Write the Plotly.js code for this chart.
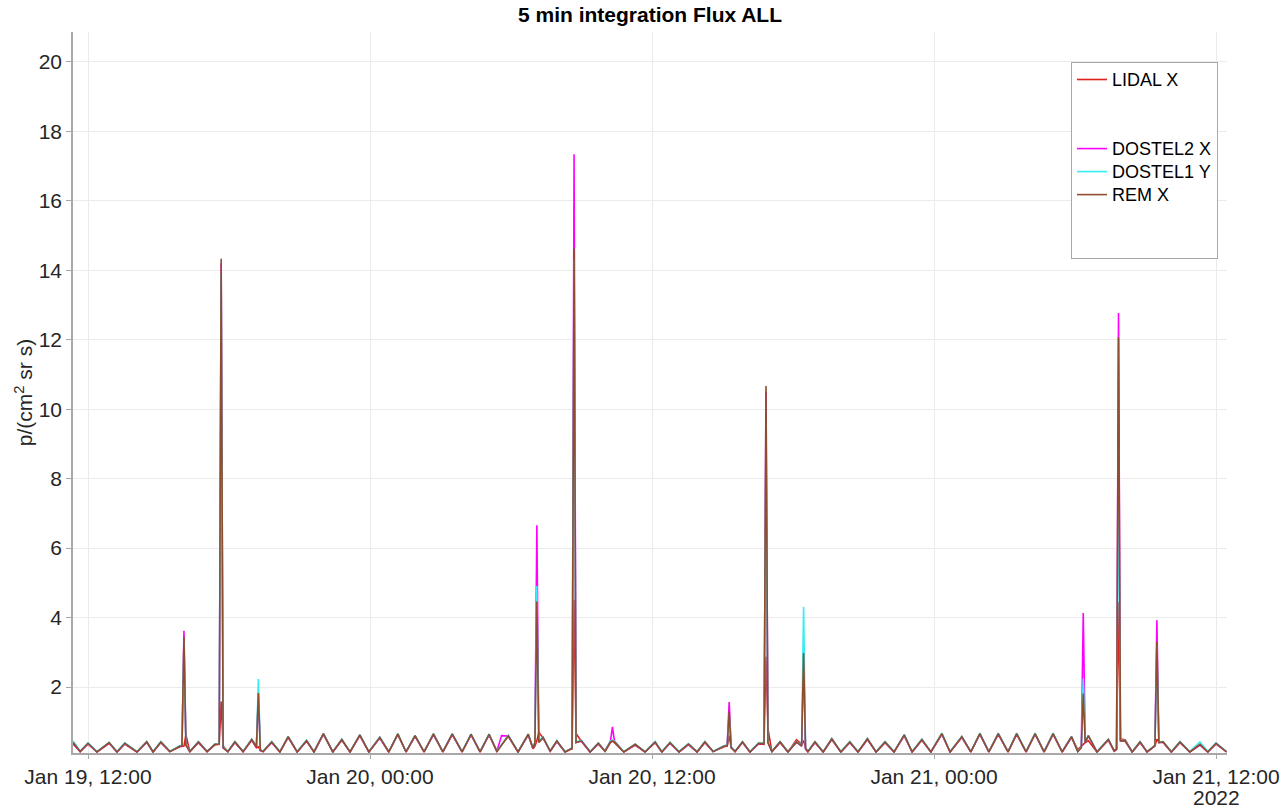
<!DOCTYPE html>
<html><head><meta charset="utf-8">
<script src="https://cdn.plot.ly/plotly-3.0.1.min.js"></script>
<style>html,body{margin:0;padding:0;background:#fff;}#chart{width:1283px;height:810px;}</style>
</head><body><div id="chart"></div>
<script>
// minutes after 2022-01-19 12:00 UTC
const startTime = '2022-01-19T12:00:00Z';
const minutesFromStart = [
 -38, -20, 0, 23, 54, 74, 94, 125, 150, 166,
 186, 209, 235, 240, 245, 250, 260, 282, 304, 324,
 335, 340, 345, 357, 375, 396, 418, 430, 435, 440,
 447, 469, 490, 511, 534, 558, 577, 601, 625, 648,
 669, 694, 717, 745, 768, 791, 812, 835, 858, 882,
 906, 930, 955, 978, 1001, 1024, 1044, 1056, 1073, 1098,
 1124, 1136, 1141, 1146, 1151, 1162, 1180, 1197, 1218, 1231,
 1236, 1241, 1246, 1260, 1282, 1303, 1320, 1334, 1339, 1344,
 1368, 1397, 1422, 1448, 1465, 1486, 1509, 1533, 1555, 1575,
 1596, 1624, 1632, 1637, 1642, 1652, 1671, 1690, 1712, 1726,
 1731, 1736, 1746, 1767, 1787, 1809, 1822, 1827, 1832, 1838,
 1856, 1877, 1899, 1922, 1945, 1966, 1990, 2012, 2035, 2058,
 2084, 2104, 2129, 2152, 2180, 2201, 2231, 2254, 2277, 2300,
 2324, 2349, 2371, 2395, 2418, 2441, 2464, 2487, 2511, 2527,
 2536, 2541, 2546, 2554, 2576, 2605, 2620, 2626, 2631, 2636,
 2648, 2666, 2686, 2704, 2724, 2729, 2734, 2745, 2766, 2788,
 2813, 2839, 2859, 2880, 2907
];
const lidalX = [
 0.36, 0.14, 0.36, 0.13, 0.38, 0.13, 0.36, 0.13, 0.42, 0.13,
 0.40, 0.14, 0.28, 0.30, 0.30, 0.62, 0.14, 0.40, 0.14, 0.33,
 0.35, 1.58, 0.30, 0.14, 0.40, 0.14, 0.47, 0.25, 0.28, 0.18,
 0.14, 0.40, 0.13, 0.55, 0.13, 0.44, 0.13, 0.64, 0.13, 0.47,
 0.13, 0.60, 0.13, 0.53, 0.13, 0.63, 0.13, 0.58, 0.13, 0.63,
 0.13, 0.63, 0.13, 0.62, 0.13, 0.62, 0.14, 0.33, 0.58, 0.13,
 0.62, 0.22, 0.30, 0.45, 0.70, 0.53, 0.15, 0.43, 0.13, 0.20,
 0.22, 4.51, 0.66, 0.43, 0.13, 0.36, 0.15, 0.40, 0.44, 0.40,
 0.13, 0.33, 0.13, 0.40, 0.13, 0.38, 0.13, 0.34, 0.13, 0.40,
 0.14, 0.28, 0.30, 0.60, 0.25, 0.14, 0.40, 0.13, 0.36, 0.35,
 2.87, 0.80, 0.14, 0.40, 0.13, 0.48, 0.35, 0.46, 0.25, 0.14,
 0.40, 0.13, 0.49, 0.13, 0.40, 0.13, 0.49, 0.13, 0.40, 0.13,
 0.60, 0.13, 0.47, 0.13, 0.64, 0.13, 0.55, 0.13, 0.64, 0.13,
 0.64, 0.13, 0.64, 0.13, 0.64, 0.13, 0.64, 0.13, 0.55, 0.20,
 0.28, 0.35, 0.40, 0.45, 0.13, 0.47, 0.15, 0.20, 4.45, 0.50,
 0.48, 0.13, 0.40, 0.13, 0.30, 0.50, 0.42, 0.40, 0.13, 0.40,
 0.13, 0.33, 0.13, 0.36, 0.13
];
const dostel2X = [
 0.38, 0.14, 0.37, 0.13, 0.39, 0.13, 0.37, 0.13, 0.41, 0.13,
 0.41, 0.14, 0.30, 0.31, 3.62, 0.32, 0.14, 0.41, 0.14, 0.35,
 0.36, 14.2, 0.25, 0.14, 0.41, 0.14, 0.48, 0.27, 1.80, 0.17,
 0.14, 0.41, 0.13, 0.56, 0.13, 0.45, 0.13, 0.65, 0.13, 0.48,
 0.13, 0.61, 0.13, 0.54, 0.13, 0.64, 0.13, 0.59, 0.13, 0.64,
 0.13, 0.64, 0.13, 0.63, 0.13, 0.63, 0.16, 0.60, 0.59, 0.13,
 0.63, 0.24, 0.40, 6.66, 0.42, 0.54, 0.15, 0.44, 0.13, 0.21,
 0.24, 17.34, 0.40, 0.44, 0.13, 0.37, 0.16, 0.45, 0.85, 0.45,
 0.13, 0.34, 0.13, 0.41, 0.13, 0.39, 0.13, 0.35, 0.13, 0.41,
 0.14, 0.30, 0.33, 1.57, 0.27, 0.14, 0.41, 0.13, 0.37, 0.38,
 10.5, 0.40, 0.14, 0.41, 0.13, 0.41, 0.30, 2.90, 0.22, 0.14,
 0.41, 0.13, 0.50, 0.13, 0.41, 0.13, 0.50, 0.13, 0.41, 0.13,
 0.61, 0.13, 0.48, 0.13, 0.65, 0.13, 0.56, 0.13, 0.65, 0.13,
 0.65, 0.13, 0.65, 0.13, 0.65, 0.13, 0.65, 0.13, 0.56, 0.14,
 0.26, 4.13, 0.40, 0.59, 0.13, 0.48, 0.16, 0.22, 12.77, 0.45,
 0.44, 0.13, 0.41, 0.13, 0.31, 3.92, 0.40, 0.41, 0.13, 0.41,
 0.13, 0.34, 0.13, 0.37, 0.13
];
const dostel1Y = [
 0.45, 0.15, 0.39, 0.14, 0.41, 0.14, 0.39, 0.14, 0.43, 0.14,
 0.43, 0.15, 0.31, 0.33, 3.30, 0.34, 0.15, 0.43, 0.15, 0.36,
 0.37, 13.9, 0.27, 0.15, 0.43, 0.15, 0.50, 0.30, 2.23, 0.20,
 0.15, 0.43, 0.14, 0.58, 0.14, 0.47, 0.14, 0.66, 0.14, 0.50,
 0.14, 0.63, 0.14, 0.56, 0.14, 0.66, 0.14, 0.61, 0.14, 0.66,
 0.14, 0.66, 0.14, 0.65, 0.14, 0.65, 0.15, 0.35, 0.61, 0.14,
 0.65, 0.26, 0.40, 4.91, 0.45, 0.56, 0.16, 0.46, 0.14, 0.22,
 0.25, 14.3, 0.42, 0.46, 0.14, 0.39, 0.16, 0.45, 0.47, 0.44,
 0.14, 0.36, 0.14, 0.43, 0.14, 0.41, 0.14, 0.37, 0.14, 0.43,
 0.15, 0.31, 0.33, 1.20, 0.28, 0.15, 0.43, 0.14, 0.39, 0.38,
 9.26, 0.42, 0.15, 0.43, 0.14, 0.43, 0.32, 4.31, 0.24, 0.15,
 0.43, 0.14, 0.52, 0.14, 0.43, 0.14, 0.52, 0.14, 0.43, 0.14,
 0.63, 0.14, 0.50, 0.14, 0.67, 0.14, 0.58, 0.14, 0.67, 0.14,
 0.67, 0.14, 0.67, 0.14, 0.67, 0.14, 0.67, 0.14, 0.58, 0.15,
 0.27, 2.24, 0.42, 0.61, 0.14, 0.50, 0.17, 0.23, 8.87, 0.47,
 0.46, 0.14, 0.43, 0.14, 0.32, 3.20, 0.42, 0.43, 0.14, 0.43,
 0.14, 0.42, 0.14, 0.39, 0.14
];
const remX = [
 0.40, 0.14, 0.38, 0.13, 0.40, 0.13, 0.38, 0.13, 0.42, 0.13,
 0.42, 0.14, 0.30, 0.31, 3.45, 0.33, 0.14, 0.42, 0.14, 0.35,
 0.36, 14.33, 0.25, 0.14, 0.42, 0.14, 0.49, 0.28, 1.83, 0.18,
 0.14, 0.42, 0.13, 0.57, 0.13, 0.46, 0.13, 0.66, 0.13, 0.49,
 0.13, 0.62, 0.13, 0.55, 0.13, 0.65, 0.13, 0.60, 0.13, 0.65,
 0.13, 0.65, 0.13, 0.64, 0.13, 0.64, 0.14, 0.34, 0.60, 0.13,
 0.64, 0.24, 0.38, 4.46, 0.40, 0.55, 0.15, 0.45, 0.13, 0.21,
 0.24, 14.63, 0.40, 0.45, 0.13, 0.38, 0.15, 0.42, 0.45, 0.42,
 0.13, 0.35, 0.13, 0.42, 0.13, 0.40, 0.13, 0.36, 0.13, 0.42,
 0.14, 0.30, 0.31, 1.30, 0.26, 0.14, 0.42, 0.13, 0.38, 0.37,
 10.67, 0.40, 0.14, 0.42, 0.13, 0.42, 0.30, 2.98, 0.22, 0.14,
 0.42, 0.13, 0.51, 0.13, 0.42, 0.13, 0.51, 0.13, 0.42, 0.13,
 0.62, 0.13, 0.49, 0.13, 0.66, 0.13, 0.57, 0.13, 0.66, 0.13,
 0.66, 0.13, 0.66, 0.13, 0.66, 0.13, 0.66, 0.13, 0.57, 0.14,
 0.25, 1.81, 0.40, 0.60, 0.13, 0.49, 0.16, 0.22, 12.07, 0.45,
 0.45, 0.13, 0.42, 0.13, 0.31, 3.30, 0.40, 0.42, 0.13, 0.42,
 0.13, 0.35, 0.13, 0.38, 0.13
];
const seriesNames = ['LIDAL X', ' ', ' ', 'DOSTEL2 X', 'DOSTEL1 Y', 'REM X', ' ', ' '];
const seriesColors = ['#e0201b', 'rgba(0,0,0,0)', 'rgba(0,0,0,0)', '#ff00ff', '#33eef2', '#8e4e2e', 'rgba(0,0,0,0)', 'rgba(0,0,0,0)'];
const xTickMinutes = [0, 720, 1440, 2160, 2880];
const xTickLabels = ['Jan 19, 12:00', 'Jan 20, 00:00', 'Jan 20, 12:00', 'Jan 21, 00:00', 'Jan 21, 12:00'];
const yearLabel = '2022';
const xRangeMinutes = [-38.3, 2908];
const yTicks = [2, 4, 6, 8, 10, 12, 14, 16, 18, 20];
const yRange = [0.1, 20.86];

function toDate(m) {
  const d = new Date(Date.parse(startTime) + m * 60000);
  return d.toISOString().slice(0, 19).replace('T', ' ');
}
const times = minutesFromStart.map(toDate);
const seriesValues = [lidalX, null, null, dostel2X, dostel1Y, remX, null, null];

const traces = seriesNames.map((name, i) => {
  const vals = seriesValues[i];
  return {
    type: 'scatter', mode: 'lines',
    name: '<span style="font-size:18px">' + name + '</span>',
    x: vals ? times : [times[0]],
    y: vals ? vals : [null],
    line: {color: seriesColors[i], width: 1.6},
    hoverinfo: vals ? 'x+y+name' : 'skip'
  };
});

const axisGrey = '#a8a8a8';
const layout = {
  width: 1283, height: 810,
  margin: {l: 73, r: 56, t: 32, b: 57},
  paper_bgcolor: '#ffffff', plot_bgcolor: '#ffffff',
  font: {family: '"Liberation Sans", Arial, Helvetica, sans-serif', color: '#262626'},
  title: {
    text: '<b>5 min integration Flux ALL</b>',
    font: {size: 21, color: '#000000'},
    x: 0.5, xref: 'paper', xanchor: 'center',
    y: 1 - 15 / 810, yref: 'container', yanchor: 'middle'
  },
  xaxis: {
    type: 'date',
    range: xRangeMinutes.map(toDate),
    tickmode: 'array',
    tickvals: xTickMinutes.map(toDate),
    ticktext: xTickLabels,
    showgrid: true, gridcolor: '#ebebeb', gridwidth: 1,
    showline: true, linecolor: axisGrey, linewidth: 1.5, mirror: false,
    ticks: 'outside', ticklen: 4, tickcolor: axisGrey,
    tickfont: {size: 21, color: '#262626'},
    zeroline: false
  },
  yaxis: {
    range: yRange,
    tickmode: 'array',
    tickvals: yTicks,
    showgrid: true, gridcolor: '#ebebeb', gridwidth: 1,
    showline: true, linecolor: axisGrey, linewidth: 1.5, mirror: false,
    ticks: 'outside', ticklen: 5, tickcolor: axisGrey,
    tickfont: {size: 21, color: '#262626'},
    zeroline: false,
    title: {text: 'p/(cm<sup>2</sup> sr s)', font: {size: 21, color: '#262626'}, standoff: 0}
  },
  annotations: [{
    text: yearLabel, xref: 'x', x: toDate(xTickMinutes[xTickMinutes.length - 1]),
    yref: 'paper', y: 0, yanchor: 'top', yshift: -31, showarrow: false,
    font: {size: 21, color: '#262626'}
  }],
  showlegend: true,
  legend: {
    x: (1071 - 73) / 1154, y: (753 - 62) / 721, xanchor: 'left', yanchor: 'top',
    bgcolor: '#ffffff', bordercolor: axisGrey, borderwidth: 1,
    font: {size: 15.4, color: '#000000'}, traceorder: 'normal'
  }
};

Plotly.newPlot('chart', traces, layout, {displayModeBar: false, responsive: false});
</script>
</body></html>
